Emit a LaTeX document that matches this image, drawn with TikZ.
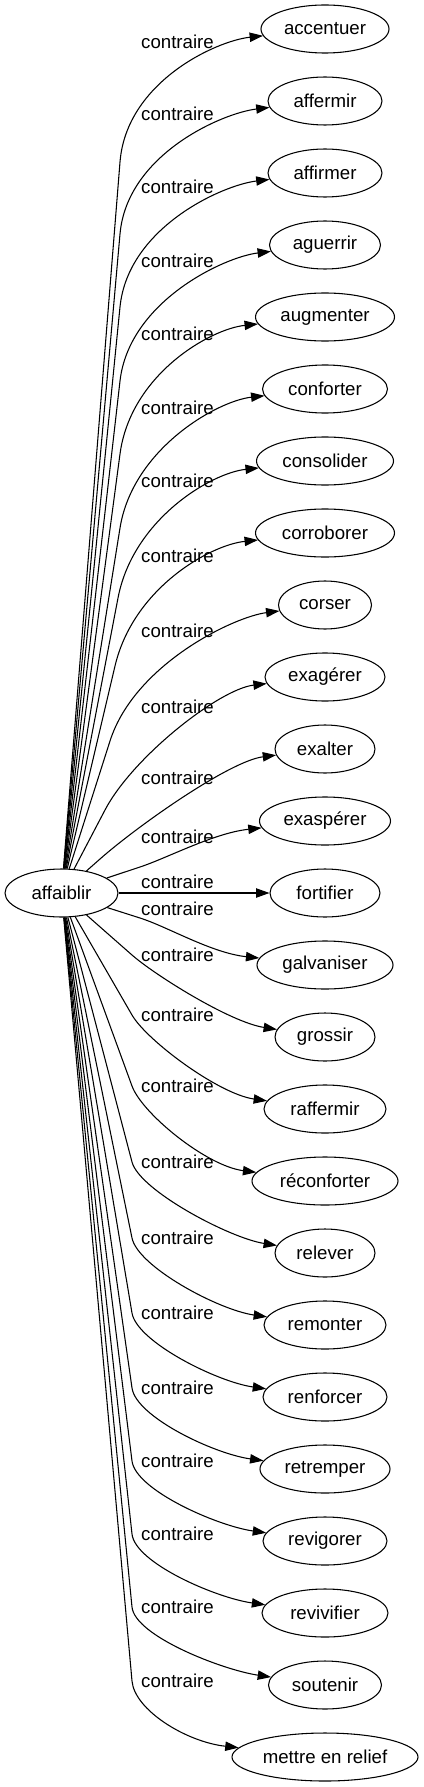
\documentclass[tikz,border=0pt]{standalone}
\usepackage{fontspec}
\setmainfont{Liberation Sans}
\usetikzlibrary{shapes.geometric, arrows.meta, calc}
\tikzset{
    word/.style={
        ellipse, draw=black, line width=0.8pt, inner sep=0pt,
        minimum height=36pt, font=\fontsize{14pt}{16pt}\selectfont
    },
    rel/.style={inner sep=0pt, font=\fontsize{14pt}{16pt}\selectfont},
    arrow/.style={-{Triangle[length=10pt, width=7pt]}, line width=0.8pt},
}
\begin{document}
\begin{tikzpicture}[x=0.75pt, y=-0.75pt]
    \useasboundingbox (0,0) rectangle (424,1787);
    \node[word, minimum width=84.75pt] (affaiblir) at (61.5,893) {affaiblir};
    % name / text / width / label y / via x / via y / bend length / end offset
    \foreach \name/\txt/\w/\ly/\vx/\vy/\k/\cy [count=\i from 0] in {
        accentuer/accentuer/128/42/120/162/60/12,
        affermir/affermir/114/114/120/234/60/12,
        affirmer/affirmer/114/187/120/307/60/12,
        aguerrir/aguerrir/111/261/120/381/60/12,
        augmenter/augmenter/139/334/120/454/60/12,
        conforter/conforter/125/408/120/528/60/12,
        consolider/consolider/137/481/118/598/60/12,
        corroborer/corroborer/139/556/115/666/60/12,
        corser/corser/93/631/110/741/60/12,
        exagerer/exagérer/120/707/105/810/45/12,
        exalter/exalter/100/778/100/859/37/12,
        exasperer/exaspérer/131/837/140/867/22/12,
        fortifier/fortifier/110/882/140/893/22/0,
        galvaniser/galvaniser/136/909/140/918/22/-12,
        grossir/grossir/100/955/132/955/22/-15,
        raffermir/raffermir/122/1015/132/1015/22/-15,
        reconforter/réconforter/146/1086/132/1086/22/-15,
        relever/relever/100/1162/132/1162/22/-15,
        remonter/remonter/122/1238/132/1238/22/-15,
        renforcer/renforcer/124/1313/132/1313/22/-15,
        retremper/retremper/130/1388/132/1388/22/-15,
        revigorer/revigorer/124/1461/132/1461/22/-15,
        revivifier/revivifier/126/1534/132/1534/22/-15,
        soutenir/soutenir/113/1607/132/1607/22/-15,
        mettre/mettre en relief/186/1681/132/1681/22/-15} {
        \pgfmathsetmacro{\ty}{29+72*\i}
        \node[word, minimum width=\w*0.75pt] (\name) at (325,\ty) {\txt};
        \node[rel] (lbl\i) at (177.5,\ly) {contraire};
        \coordinate (via\i) at (\vx,\vy);
        \draw[arrow] (affaiblir) -- (via\i)
            .. controls ($(via\i)!-\k pt!(affaiblir)$) and ($(\name.west)+(-45,\cy)$) .. (\name);
    }
\end{tikzpicture}
\end{document}
